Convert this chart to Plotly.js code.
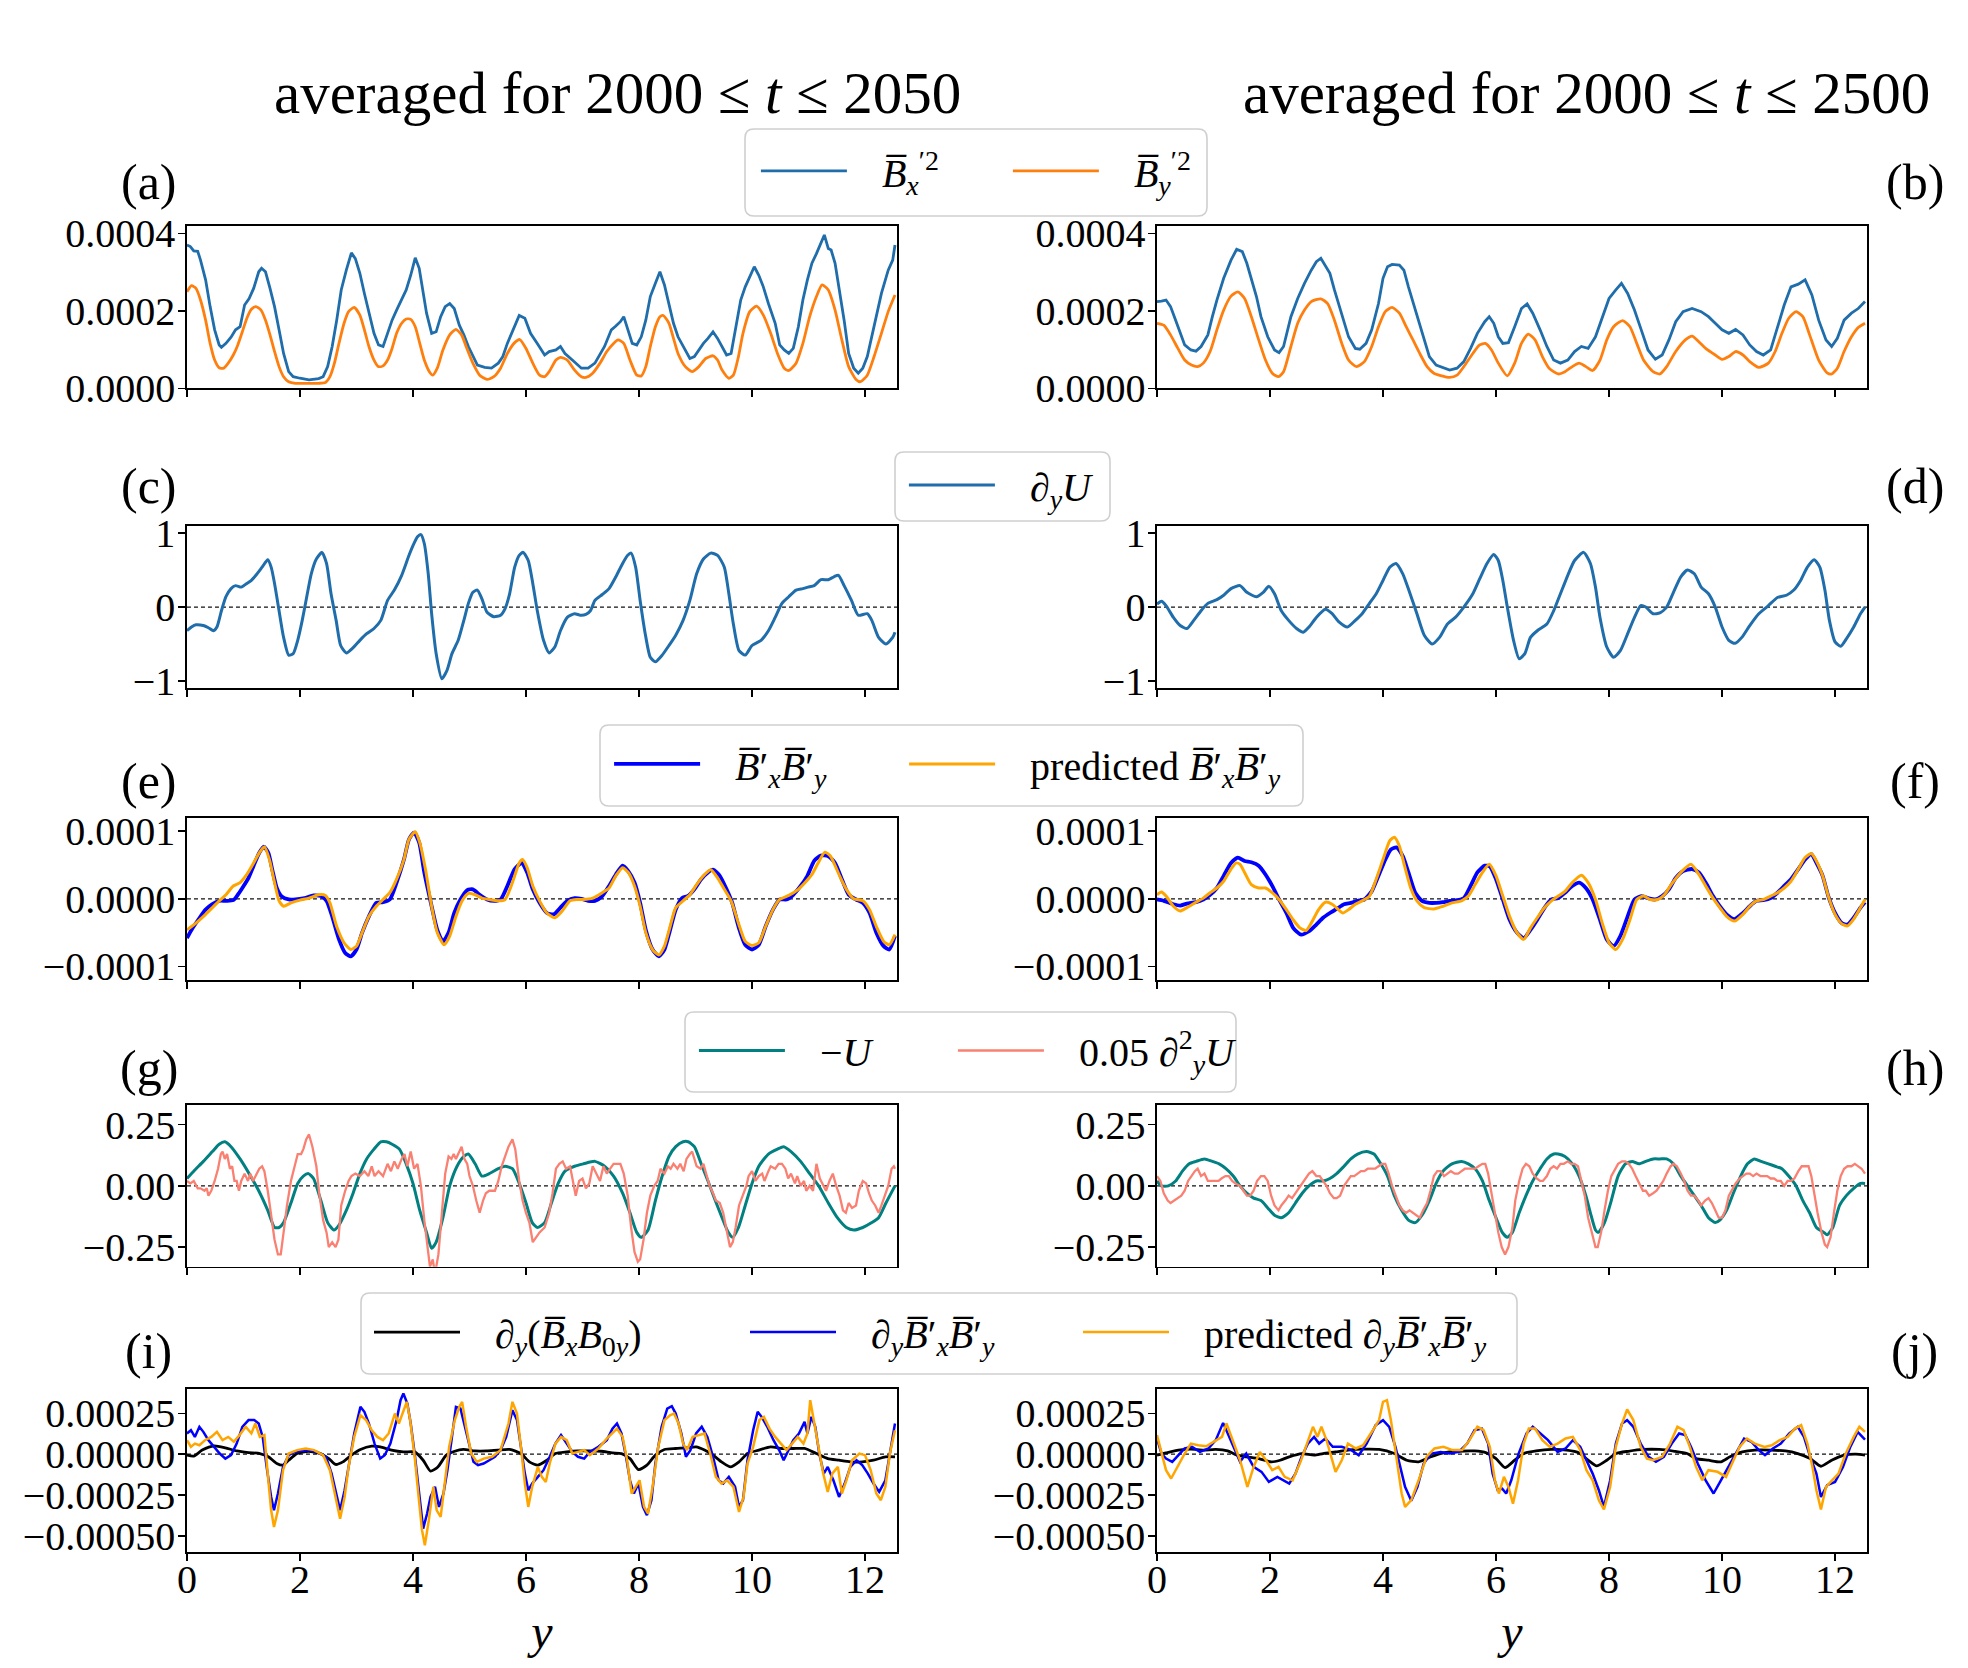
<!DOCTYPE html>
<html>
<head>
<meta charset="utf-8">
<script src="https://cdn.plot.ly/plotly-3.0.1.min.js"></script>
<style>
html, body { margin: 0; padding: 0; background: #fff; }
#chart { width: 1968px; height: 1668px; }
</style>
</head>
<body>
<div id="chart"></div>
<script>
// Magnetic fluctuation statistics averaged over two time windows.
// Panels a,b,e,f,i,j store values in units of 1e-4 (scaled by E4 when plotted).
const E4 = 1e-4;
const X_MAX = 12.566;

// (a) <Bx'^2>, <By'^2>, 2000 <= t <= 2050   [x 1e-4]
const aBx2X = [0.00,0.06,0.12,0.19,0.24,0.33,0.41,0.49,0.57,0.61,0.69,0.78,0.86,0.94,1.02,1.10,1.18,1.27,1.32,1.39,1.47,1.55,1.63,1.71,1.80,1.88,2.00,2.16,2.33,2.41,2.49,2.57,2.65,2.73,2.82,2.91,2.98,3.06,3.14,3.22,3.31,3.39,3.47,3.55,3.63,3.71,3.80,3.88,3.96,4.04,4.11,4.16,4.24,4.33,4.41,4.49,4.57,4.65,4.73,4.82,4.90,4.98,5.06,5.14,5.27,5.39,5.51,5.59,5.67,5.80,5.88,5.98,6.08,6.20,6.33,6.41,6.53,6.61,6.69,6.82,6.98,7.10,7.22,7.39,7.51,7.59,7.67,7.73,7.80,7.88,7.96,8.04,8.12,8.20,8.29,8.37,8.45,8.53,8.61,8.69,8.82,8.90,8.98,9.06,9.14,9.22,9.31,9.39,9.47,9.55,9.63,9.71,9.80,9.88,9.96,10.04,10.12,10.20,10.29,10.41,10.49,10.57,10.65,10.73,10.82,10.90,10.98,11.06,11.14,11.22,11.28,11.35,11.40,11.47,11.55,11.63,11.71,11.80,11.88,11.96,12.04,12.12,12.20,12.29,12.41,12.49,12.53];
const aBx2Y = [3.70,3.66,3.55,3.54,3.31,2.80,2.11,1.51,1.12,1.06,1.16,1.32,1.51,1.59,2.15,2.32,2.58,3.01,3.10,3.01,2.58,2.11,1.51,0.90,0.43,0.30,0.26,0.22,0.25,0.30,0.56,1.08,1.76,2.54,3.05,3.50,3.35,2.97,2.45,1.94,1.42,1.12,1.08,1.42,1.76,2.02,2.28,2.54,2.92,3.37,3.10,2.62,1.94,1.42,1.46,1.85,2.11,2.19,2.06,1.63,1.38,1.08,0.82,0.60,0.54,0.52,0.65,0.82,1.16,1.59,1.88,1.81,1.42,1.16,0.86,0.95,0.99,1.08,0.90,0.73,0.52,0.52,0.65,1.08,1.51,1.61,1.72,1.85,1.55,1.16,1.12,1.33,1.76,2.37,2.71,3.01,2.67,2.19,1.68,1.33,0.99,0.77,0.82,0.99,1.16,1.29,1.46,1.29,1.08,0.86,0.90,1.51,2.28,2.62,2.88,3.14,2.92,2.62,2.19,1.68,1.12,0.99,0.90,1.03,1.59,2.28,2.80,3.23,3.48,3.74,3.96,3.61,3.57,3.23,2.54,1.76,0.90,0.52,0.39,0.52,0.82,1.33,1.85,2.45,3.05,3.31,3.70];
const aBy2X = [0.00,0.08,0.16,0.24,0.33,0.41,0.49,0.57,0.65,0.73,0.82,0.90,0.98,1.06,1.14,1.22,1.31,1.39,1.47,1.55,1.63,1.71,1.80,1.92,2.08,2.33,2.45,2.53,2.61,2.69,2.78,2.86,2.96,3.06,3.14,3.22,3.31,3.39,3.47,3.55,3.63,3.71,3.80,3.88,3.96,4.04,4.12,4.20,4.29,4.35,4.43,4.53,4.65,4.76,4.86,4.94,5.06,5.18,5.31,5.43,5.55,5.67,5.80,5.89,6.00,6.12,6.24,6.33,6.41,6.53,6.61,6.73,6.86,6.98,7.06,7.18,7.31,7.43,7.55,7.63,7.73,7.84,7.96,8.04,8.12,8.20,8.29,8.37,8.43,8.53,8.61,8.69,8.82,8.94,9.06,9.18,9.31,9.39,9.47,9.59,9.67,9.76,9.84,9.96,10.08,10.20,10.33,10.45,10.57,10.65,10.78,10.90,11.02,11.14,11.24,11.35,11.47,11.59,11.71,11.84,11.92,12.04,12.16,12.29,12.41,12.53];
const aBy2Y = [2.49,2.65,2.58,2.28,1.76,1.16,0.73,0.53,0.52,0.65,0.86,1.12,1.46,1.81,2.04,2.11,2.02,1.76,1.38,0.95,0.56,0.30,0.17,0.13,0.13,0.13,0.15,0.30,0.65,1.16,1.68,1.98,2.09,1.89,1.51,1.08,0.73,0.56,0.58,0.73,1.03,1.42,1.68,1.79,1.78,1.59,1.16,0.73,0.43,0.34,0.52,0.99,1.38,1.52,1.38,1.08,0.65,0.34,0.23,0.30,0.52,0.90,1.18,1.26,1.03,0.65,0.34,0.30,0.43,0.73,0.80,0.73,0.47,0.30,0.28,0.39,0.65,0.95,1.16,1.25,1.16,0.73,0.34,0.32,0.56,1.08,1.59,1.85,1.88,1.68,1.29,0.90,0.56,0.43,0.56,0.77,0.84,0.73,0.47,0.26,0.34,0.82,1.42,1.98,2.12,1.89,1.42,0.90,0.52,0.46,0.65,1.16,1.85,2.37,2.67,2.54,2.02,1.25,0.56,0.23,0.17,0.34,0.82,1.42,1.98,2.41];

// (b) same quantities, 2000 <= t <= 2500   [x 1e-4]
const bBx2X = [0,0.08,0.16,0.24,0.33,0.41,0.49,0.60,0.69,0.78,0.90,0.98,1.06,1.18,1.31,1.41,1.51,1.59,1.67,1.76,1.84,1.96,2.08,2.16,2.24,2.37,2.49,2.61,2.73,2.82,2.90,2.98,3.06,3.14,3.27,3.39,3.51,3.59,3.70,3.80,3.92,4.00,4.08,4.16,4.29,4.37,4.45,4.57,4.69,4.82,4.94,5.06,5.18,5.31,5.43,5.55,5.67,5.80,5.88,5.96,6.04,6.12,6.22,6.33,6.45,6.55,6.65,6.78,6.90,7.02,7.14,7.27,7.39,7.51,7.63,7.76,7.88,8.00,8.12,8.22,8.33,8.45,8.57,8.69,8.82,8.94,9.06,9.18,9.31,9.47,9.63,9.76,9.88,10.00,10.12,10.24,10.37,10.49,10.61,10.73,10.86,10.98,11.10,11.22,11.35,11.47,11.59,11.71,11.84,11.94,12.04,12.16,12.29,12.41,12.53];
const bBx2Y = [2.24,2.25,2.28,2.11,1.76,1.42,1.12,0.99,0.96,1.08,1.38,1.85,2.28,2.84,3.31,3.59,3.53,3.23,2.80,2.37,1.85,1.33,0.99,0.92,1.08,1.85,2.32,2.71,3.05,3.27,3.36,3.18,2.97,2.54,1.94,1.33,1.03,1.01,1.16,1.51,2.19,2.84,3.14,3.20,3.18,3.05,2.62,2.02,1.42,0.82,0.60,0.53,0.47,0.52,0.69,1.03,1.42,1.72,1.85,1.68,1.33,1.16,1.18,1.59,2.06,2.18,1.94,1.51,1.08,0.73,0.65,0.73,0.95,1.08,1.03,1.33,1.85,2.32,2.54,2.71,2.45,2.02,1.51,0.99,0.75,0.86,1.25,1.72,1.98,2.06,1.98,1.85,1.68,1.51,1.42,1.52,1.38,1.12,0.95,0.86,0.99,1.59,2.15,2.62,2.69,2.80,2.41,1.76,1.25,1.08,1.29,1.76,1.94,2.06,2.24];
const bBy2X = [0,0.12,0.24,0.37,0.49,0.61,0.72,0.82,0.94,1.06,1.18,1.31,1.43,1.55,1.67,1.80,1.92,2.04,2.15,2.24,2.37,2.49,2.61,2.73,2.90,3.02,3.14,3.27,3.39,3.53,3.67,3.80,3.92,4.04,4.16,4.29,4.41,4.53,4.65,4.78,4.90,5.02,5.18,5.31,5.43,5.59,5.71,5.81,5.92,6.04,6.20,6.33,6.45,6.57,6.69,6.82,6.94,7.10,7.22,7.35,7.47,7.59,7.71,7.84,7.96,8.08,8.24,8.37,8.49,8.61,8.78,8.90,9.02,9.18,9.35,9.47,9.59,9.71,9.88,10.00,10.12,10.24,10.37,10.49,10.65,10.82,10.94,11.06,11.18,11.31,11.43,11.55,11.71,11.86,11.94,12.04,12.16,12.29,12.41,12.53];
const bBy2Y = [1.68,1.63,1.38,1.03,0.73,0.60,0.56,0.65,0.95,1.51,2.02,2.38,2.49,2.32,1.85,1.25,0.73,0.39,0.30,0.43,1.08,1.68,2.02,2.24,2.31,2.19,1.76,1.16,0.73,0.56,0.69,1.08,1.59,1.98,2.09,1.94,1.59,1.25,0.90,0.56,0.39,0.33,0.28,0.34,0.56,0.90,1.12,1.16,0.99,0.65,0.32,0.65,1.16,1.40,1.25,0.82,0.52,0.37,0.43,0.56,0.65,0.56,0.46,0.73,1.25,1.59,1.75,1.59,1.16,0.73,0.43,0.37,0.56,0.95,1.25,1.35,1.20,1.03,0.86,0.75,0.82,0.95,0.86,0.69,0.54,0.65,0.95,1.42,1.81,1.98,1.85,1.38,0.73,0.40,0.37,0.52,0.95,1.33,1.57,1.68];

// (c), (d) shear  d_y U
const cDUX = [0,0.08,0.16,0.29,0.38,0.47,0.53,0.61,0.69,0.78,0.86,0.96,1.06,1.14,1.22,1.33,1.43,1.49,1.55,1.63,1.71,1.80,1.88,1.96,2.04,2.12,2.20,2.29,2.39,2.47,2.55,2.64,2.72,2.82,2.94,3.06,3.18,3.31,3.43,3.55,3.67,3.80,3.92,4.00,4.08,4.14,4.20,4.27,4.33,4.41,4.51,4.60,4.69,4.80,4.90,4.98,5.06,5.14,5.22,5.31,5.43,5.55,5.63,5.71,5.80,5.88,5.95,6.04,6.12,6.20,6.31,6.41,6.51,6.61,6.73,6.86,6.96,7.06,7.14,7.22,7.35,7.47,7.59,7.71,7.80,7.86,7.94,8.02,8.11,8.20,8.29,8.41,8.53,8.65,8.78,8.90,9.02,9.14,9.27,9.39,9.51,9.59,9.67,9.77,9.88,10.00,10.16,10.29,10.41,10.53,10.65,10.78,10.90,10.99,11.10,11.22,11.35,11.45,11.53,11.63,11.76,11.88,12.04,12.12,12.24,12.37,12.49,12.53];
const cDUY = [-0.32,-0.27,-0.24,-0.25,-0.28,-0.32,-0.27,-0.05,0.14,0.25,0.29,0.27,0.32,0.36,0.43,0.54,0.64,0.54,0.32,-0.05,-0.41,-0.65,-0.63,-0.45,-0.18,0.14,0.45,0.65,0.74,0.59,0.18,-0.18,-0.52,-0.62,-0.55,-0.45,-0.36,-0.29,-0.18,0.09,0.23,0.43,0.68,0.83,0.95,0.98,0.86,0.45,-0.09,-0.63,-0.97,-0.86,-0.63,-0.45,-0.18,0.05,0.20,0.23,0.11,-0.07,-0.13,-0.11,-0.02,0.18,0.54,0.70,0.74,0.63,0.32,-0.05,-0.45,-0.62,-0.54,-0.32,-0.14,-0.09,-0.11,-0.10,-0.05,0.09,0.17,0.25,0.41,0.59,0.70,0.73,0.54,0.09,-0.36,-0.68,-0.74,-0.65,-0.52,-0.38,-0.18,0.09,0.45,0.65,0.73,0.70,0.54,0.18,-0.23,-0.59,-0.65,-0.52,-0.45,-0.32,-0.14,0.05,0.14,0.23,0.25,0.27,0.29,0.37,0.37,0.41,0.43,0.29,0.09,-0.11,-0.09,-0.18,-0.41,-0.50,-0.41,-0.34];
const dDUX = [0,0.08,0.16,0.29,0.41,0.53,0.65,0.78,0.90,1.06,1.18,1.31,1.47,1.59,1.76,1.88,1.98,2.08,2.20,2.33,2.47,2.59,2.69,2.82,2.98,3.10,3.22,3.37,3.51,3.63,3.76,3.88,4.00,4.12,4.23,4.35,4.47,4.60,4.73,4.87,5.00,5.14,5.28,5.43,5.59,5.71,5.84,5.96,6.04,6.12,6.20,6.31,6.41,6.51,6.61,6.73,6.90,7.02,7.14,7.27,7.39,7.55,7.67,7.76,7.84,7.96,8.08,8.20,8.33,8.45,8.56,8.65,8.78,8.90,9.02,9.14,9.27,9.39,9.51,9.63,9.76,9.88,10.00,10.12,10.23,10.35,10.49,10.65,10.82,10.98,11.14,11.27,11.39,11.51,11.63,11.73,11.82,11.90,12.00,12.10,12.20,12.33,12.45,12.53];
const dDUY = [0.04,0.08,0.02,-0.14,-0.25,-0.29,-0.18,-0.05,0.05,0.10,0.16,0.25,0.29,0.20,0.14,0.20,0.28,0.18,-0.05,-0.18,-0.29,-0.34,-0.27,-0.14,-0.03,-0.09,-0.20,-0.27,-0.18,-0.09,0.05,0.18,0.36,0.54,0.59,0.45,0.20,-0.09,-0.38,-0.50,-0.41,-0.23,-0.14,0.00,0.18,0.38,0.59,0.71,0.63,0.36,0.00,-0.45,-0.70,-0.63,-0.41,-0.32,-0.23,-0.05,0.18,0.43,0.63,0.74,0.59,0.27,-0.14,-0.54,-0.68,-0.59,-0.36,-0.14,0.02,0.00,-0.09,-0.08,0.00,0.20,0.41,0.50,0.45,0.27,0.18,0.00,-0.27,-0.45,-0.49,-0.41,-0.25,-0.09,0.02,0.13,0.16,0.23,0.36,0.54,0.64,0.54,0.23,-0.18,-0.47,-0.53,-0.43,-0.27,-0.09,0.00];

// (e), (f) correlation <Bx' By'> and its prediction   [x 1e-4]
const eBxByX = [0,0.08,0.20,0.33,0.45,0.57,0.69,0.82,0.90,0.98,1.09,1.18,1.28,1.36,1.44,1.51,1.59,1.67,1.80,1.92,2.08,2.24,2.37,2.47,2.57,2.69,2.80,2.90,3.00,3.10,3.22,3.35,3.47,3.59,3.71,3.84,3.93,4.02,4.11,4.20,4.33,4.43,4.53,4.63,4.73,4.84,4.96,5.06,5.18,5.31,5.43,5.55,5.67,5.80,5.92,6.02,6.12,6.24,6.37,6.49,6.61,6.73,6.86,6.98,7.10,7.22,7.35,7.47,7.59,7.71,7.81,7.92,8.02,8.12,8.24,8.35,8.45,8.55,8.65,8.76,8.86,8.98,9.10,9.22,9.31,9.43,9.55,9.65,9.76,9.88,10.00,10.12,10.24,10.37,10.49,10.61,10.73,10.86,10.98,11.10,11.22,11.35,11.47,11.59,11.71,11.84,11.96,12.08,12.20,12.33,12.43,12.53];
const eBxByY = [-0.58,-0.46,-0.31,-0.16,-0.08,-0.03,-0.03,-0.02,0.06,0.16,0.31,0.49,0.68,0.77,0.68,0.43,0.16,0.04,-0.01,-0.01,0.01,0.05,0.04,-0.03,-0.26,-0.60,-0.80,-0.85,-0.75,-0.50,-0.26,-0.06,-0.05,-0.01,0.24,0.58,0.88,0.98,0.83,0.39,-0.11,-0.46,-0.63,-0.50,-0.21,-0.01,0.13,0.14,0.06,-0.01,-0.03,-0.01,0.19,0.44,0.53,0.39,0.14,-0.06,-0.21,-0.23,-0.13,-0.03,0.01,0.00,-0.03,-0.03,0.04,0.19,0.36,0.49,0.41,0.24,-0.06,-0.46,-0.75,-0.85,-0.75,-0.46,-0.16,0.01,0.04,0.14,0.29,0.39,0.43,0.34,0.14,-0.06,-0.41,-0.68,-0.75,-0.68,-0.41,-0.16,-0.01,-0.01,0.06,0.19,0.34,0.56,0.64,0.63,0.53,0.29,0.06,-0.01,-0.06,-0.21,-0.50,-0.70,-0.75,-0.55];
const ePredX = [0,0.08,0.20,0.33,0.45,0.57,0.69,0.82,0.94,1.06,1.18,1.28,1.37,1.46,1.55,1.63,1.71,1.84,2.00,2.16,2.33,2.45,2.53,2.65,2.78,2.90,3.00,3.10,3.22,3.35,3.47,3.59,3.71,3.84,3.93,4.04,4.12,4.22,4.33,4.43,4.55,4.65,4.76,4.87,4.98,5.10,5.22,5.35,5.51,5.63,5.76,5.88,5.94,6.02,6.12,6.24,6.37,6.51,6.64,6.78,6.90,7.02,7.18,7.35,7.47,7.59,7.71,7.81,7.92,8.02,8.12,8.24,8.35,8.45,8.55,8.65,8.78,8.90,9.02,9.14,9.27,9.39,9.51,9.63,9.76,9.88,10.00,10.12,10.24,10.37,10.49,10.65,10.82,10.94,11.06,11.17,11.29,11.39,11.47,11.55,11.67,11.80,11.96,12.08,12.20,12.33,12.43,12.53];
const ePredY = [-0.46,-0.41,-0.33,-0.23,-0.13,-0.03,0.06,0.19,0.24,0.36,0.53,0.68,0.77,0.58,0.24,-0.03,-0.11,-0.06,-0.02,0.01,0.06,0.05,-0.06,-0.41,-0.65,-0.75,-0.70,-0.50,-0.26,-0.11,-0.01,0.09,0.29,0.58,0.88,0.99,0.83,0.44,-0.11,-0.50,-0.68,-0.55,-0.26,-0.03,0.08,0.06,0.01,-0.01,-0.03,-0.01,0.24,0.53,0.58,0.46,0.19,-0.03,-0.21,-0.28,-0.18,-0.03,-0.01,-0.01,0.01,0.09,0.16,0.34,0.46,0.39,0.19,-0.11,-0.50,-0.75,-0.83,-0.70,-0.41,-0.13,-0.03,0.06,0.21,0.34,0.43,0.31,0.14,-0.03,-0.36,-0.63,-0.69,-0.65,-0.41,-0.16,-0.01,0.05,0.14,0.24,0.36,0.53,0.69,0.63,0.49,0.34,0.14,0.00,-0.03,-0.16,-0.41,-0.63,-0.68,-0.53];
const fBxByX = [0,0.12,0.29,0.41,0.53,0.69,0.82,0.94,1.06,1.18,1.31,1.43,1.55,1.67,1.80,1.92,2.04,2.16,2.29,2.41,2.55,2.69,2.82,2.94,3.06,3.18,3.31,3.43,3.55,3.67,3.80,3.92,4.04,4.14,4.24,4.35,4.45,4.57,4.69,4.82,4.94,5.06,5.18,5.31,5.43,5.55,5.67,5.80,5.89,6.00,6.12,6.24,6.37,6.49,6.61,6.73,6.86,6.98,7.10,7.22,7.35,7.47,7.59,7.71,7.84,7.96,8.08,8.20,8.33,8.45,8.57,8.69,8.82,8.94,9.06,9.18,9.31,9.47,9.59,9.71,9.84,9.96,10.08,10.22,10.37,10.49,10.61,10.73,10.86,10.98,11.10,11.22,11.35,11.47,11.58,11.67,11.78,11.88,12.00,12.12,12.22,12.33,12.45,12.53];
const fBxByY = [-0.01,-0.03,-0.08,-0.10,-0.07,-0.05,-0.01,0.06,0.16,0.34,0.53,0.61,0.56,0.54,0.49,0.36,0.19,-0.01,-0.21,-0.43,-0.53,-0.48,-0.38,-0.28,-0.21,-0.15,-0.08,-0.06,-0.03,-0.01,0.11,0.34,0.58,0.73,0.76,0.63,0.39,0.09,-0.03,-0.06,-0.06,-0.05,-0.03,-0.02,0.01,0.19,0.39,0.49,0.48,0.29,-0.01,-0.31,-0.50,-0.58,-0.46,-0.31,-0.13,-0.01,0.01,0.09,0.19,0.24,0.16,-0.01,-0.31,-0.60,-0.70,-0.55,-0.26,-0.01,0.04,0.01,-0.01,0.04,0.14,0.31,0.41,0.44,0.39,0.24,0.04,-0.11,-0.23,-0.30,-0.21,-0.11,-0.03,-0.02,0.01,0.09,0.19,0.29,0.44,0.58,0.66,0.53,0.34,0.04,-0.21,-0.36,-0.38,-0.28,-0.13,-0.05];
const fPredX = [0,0.08,0.16,0.29,0.41,0.53,0.69,0.82,0.94,1.06,1.18,1.31,1.40,1.47,1.55,1.67,1.80,1.92,2.04,2.16,2.29,2.41,2.53,2.64,2.73,2.86,2.98,3.10,3.21,3.29,3.39,3.51,3.63,3.76,3.88,4.00,4.12,4.20,4.29,4.38,4.49,4.60,4.73,4.90,5.06,5.22,5.39,5.51,5.63,5.76,5.88,6.00,6.12,6.24,6.37,6.49,6.61,6.73,6.86,6.98,7.10,7.22,7.35,7.51,7.63,7.76,7.88,8.00,8.12,8.24,8.37,8.49,8.61,8.73,8.86,8.98,9.10,9.27,9.45,9.59,9.71,9.84,9.96,10.08,10.22,10.37,10.49,10.61,10.73,10.86,10.98,11.10,11.22,11.35,11.47,11.58,11.67,11.78,11.88,12.00,12.12,12.22,12.33,12.45,12.53];
const fPredY = [0.06,0.10,0.04,-0.11,-0.18,-0.13,-0.05,0.01,0.09,0.16,0.26,0.44,0.53,0.51,0.39,0.21,0.16,0.16,0.09,-0.01,-0.16,-0.31,-0.43,-0.47,-0.36,-0.16,-0.05,-0.08,-0.16,-0.21,-0.16,-0.08,-0.03,0.04,0.29,0.58,0.86,0.91,0.78,0.49,0.16,-0.03,-0.13,-0.15,-0.11,-0.06,-0.03,0.04,0.21,0.39,0.51,0.34,0.04,-0.26,-0.50,-0.60,-0.43,-0.28,-0.13,-0.03,0.04,0.11,0.24,0.35,0.24,-0.01,-0.36,-0.65,-0.75,-0.60,-0.31,-0.01,0.04,-0.01,-0.01,0.06,0.21,0.39,0.51,0.36,0.19,0.01,-0.13,-0.26,-0.33,-0.23,-0.11,-0.03,-0.01,0.04,0.09,0.16,0.26,0.44,0.61,0.67,0.56,0.34,0.04,-0.23,-0.37,-0.40,-0.30,-0.13,-0.01];

// (g), (h) mean flow -U and 0.05 d_y^2 U
const gUX = [0,0.12,0.29,0.45,0.57,0.67,0.78,0.94,1.10,1.27,1.43,1.55,1.63,1.71,1.84,1.96,2.06,2.15,2.24,2.37,2.49,2.60,2.69,2.82,2.94,3.06,3.18,3.31,3.43,3.53,3.63,3.76,3.88,4.00,4.12,4.24,4.33,4.41,4.53,4.65,4.78,4.90,4.98,5.10,5.22,5.35,5.51,5.63,5.76,5.88,6.00,6.11,6.20,6.33,6.45,6.57,6.69,6.86,7.02,7.22,7.39,7.55,7.71,7.84,7.96,8.04,8.16,8.29,8.41,8.53,8.65,8.78,8.87,8.98,9.10,9.22,9.35,9.47,9.58,9.66,9.76,9.88,10.00,10.12,10.29,10.45,10.56,10.69,10.86,11.02,11.18,11.35,11.51,11.67,11.80,11.96,12.12,12.24,12.37,12.53];
const gUY = [0.03,0.06,0.10,0.14,0.17,0.18,0.16,0.11,0.05,-0.02,-0.10,-0.17,-0.17,-0.15,-0.07,0.01,0.04,0.05,0.03,-0.06,-0.15,-0.18,-0.16,-0.10,-0.03,0.05,0.11,0.15,0.18,0.18,0.17,0.15,0.09,0.01,-0.10,-0.19,-0.255,-0.23,-0.13,0.00,0.08,0.12,0.13,0.09,0.04,0.05,0.07,0.08,0.07,0.01,-0.07,-0.15,-0.17,-0.15,-0.07,0.01,0.06,0.08,0.09,0.10,0.08,0.04,-0.03,-0.11,-0.19,-0.21,-0.18,-0.06,0.04,0.12,0.16,0.18,0.18,0.16,0.09,0.02,-0.06,-0.13,-0.19,-0.21,-0.17,-0.08,0.01,0.08,0.13,0.15,0.16,0.14,0.10,0.05,0.00,-0.07,-0.13,-0.17,-0.18,-0.17,-0.15,-0.13,-0.07,0.00];
const gD2UX = [0,0.06,0.12,0.19,0.24,0.31,0.35,0.38,0.43,0.49,0.55,0.60,0.63,0.67,0.71,0.76,0.80,0.84,0.88,0.92,0.96,1.02,1.08,1.12,1.17,1.22,1.28,1.33,1.37,1.43,1.49,1.55,1.61,1.66,1.71,1.77,1.84,1.90,1.96,2.02,2.06,2.11,2.16,2.22,2.29,2.34,2.41,2.47,2.51,2.57,2.63,2.68,2.73,2.80,2.86,2.91,2.98,3.06,3.14,3.21,3.27,3.32,3.39,3.47,3.55,3.61,3.67,3.73,3.80,3.85,3.90,3.96,4.02,4.08,4.14,4.20,4.26,4.30,4.35,4.39,4.45,4.51,4.57,4.63,4.68,4.72,4.76,4.80,4.86,4.91,4.96,5.00,5.06,5.12,5.18,5.24,5.29,5.35,5.40,5.45,5.51,5.57,5.63,5.69,5.76,5.81,5.88,5.94,6.00,6.06,6.12,6.18,6.24,6.33,6.41,6.47,6.53,6.59,6.65,6.71,6.78,6.83,6.88,6.94,7.00,7.06,7.12,7.18,7.24,7.31,7.37,7.43,7.49,7.55,7.61,7.67,7.73,7.80,7.86,7.92,7.98,8.02,8.08,8.14,8.20,8.27,8.33,8.38,8.45,8.51,8.56,8.61,8.68,8.73,8.79,8.84,8.90,8.94,8.98,9.02,9.09,9.14,9.20,9.25,9.31,9.36,9.43,9.49,9.55,9.61,9.66,9.71,9.77,9.84,9.90,9.94,10.00,10.06,10.12,10.18,10.22,10.29,10.33,10.41,10.47,10.53,10.59,10.64,10.69,10.76,10.80,10.86,10.92,10.96,11.02,11.08,11.14,11.20,11.25,11.31,11.37,11.43,11.49,11.55,11.61,11.66,11.71,11.77,11.84,11.89,11.96,12.02,12.07,12.12,12.18,12.24,12.29,12.35,12.41,12.47,12.51,12.53];
const gD2UY = [0.02,0.01,0.02,-0.01,-0.01,-0.02,-0.01,-0.04,-0.02,0.02,0.07,0.13,0.14,0.11,0.13,0.07,0.08,0.02,0.02,-0.02,0.02,0.05,0.02,0.05,0.02,0.04,0.07,0.08,0.06,-0.02,-0.13,-0.22,-0.28,-0.28,-0.19,-0.08,0.02,0.08,0.13,0.13,0.15,0.19,0.21,0.16,0.08,-0.03,-0.14,-0.19,-0.25,-0.23,-0.25,-0.22,-0.08,-0.02,0.02,0.04,0.05,0.04,0.06,0.04,0.08,0.04,0.06,0.04,0.09,0.06,0.10,0.07,0.11,0.13,0.08,0.14,0.07,0.09,0.00,-0.14,-0.25,-0.33,-0.30,-0.36,-0.28,-0.13,0.05,0.12,0.11,0.13,0.11,0.13,0.16,0.11,0.09,0.04,0.00,-0.06,-0.11,-0.06,-0.03,-0.02,-0.02,-0.02,0.02,0.08,0.12,0.16,0.19,0.15,0.02,-0.06,-0.11,-0.15,-0.23,-0.21,-0.19,-0.17,-0.11,-0.03,0.07,0.09,0.10,0.07,0.08,0.02,-0.04,0.02,0.03,-0.01,0.01,0.08,0.05,0.02,0.08,0.05,0.07,0.09,0.09,0.09,0.05,-0.04,-0.17,-0.27,-0.31,-0.30,-0.22,-0.11,-0.04,0.00,0.02,0.07,0.05,0.08,0.07,0.09,0.07,0.09,0.06,0.11,0.13,0.14,0.11,0.08,0.07,0.09,0.04,0.00,-0.03,-0.06,-0.07,-0.11,-0.18,-0.25,-0.23,-0.17,-0.08,-0.04,0.00,0.04,0.06,0.02,0.04,0.05,0.02,0.06,0.08,0.07,0.09,0.09,0.07,0.03,0.05,0.01,0.04,0.00,0.02,-0.02,0.00,-0.02,0.09,0.03,0.01,-0.02,0.02,0.05,0.00,-0.04,-0.10,-0.11,-0.07,-0.09,-0.08,-0.02,0.02,0.01,-0.03,-0.06,-0.08,-0.11,-0.08,-0.04,0.00,0.07,0.08,0.07];
const hUX = [0,0.08,0.20,0.33,0.45,0.57,0.69,0.84,0.98,1.10,1.22,1.35,1.47,1.59,1.71,1.84,1.96,2.08,2.20,2.33,2.45,2.57,2.69,2.82,2.94,3.06,3.18,3.31,3.43,3.55,3.71,3.84,3.96,4.08,4.20,4.33,4.45,4.57,4.69,4.82,4.94,5.06,5.22,5.39,5.51,5.63,5.76,5.88,6.00,6.11,6.20,6.29,6.41,6.53,6.65,6.78,6.90,7.02,7.10,7.22,7.35,7.47,7.59,7.67,7.76,7.81,7.92,8.04,8.16,8.29,8.41,8.53,8.65,8.78,8.90,9.02,9.14,9.27,9.39,9.51,9.63,9.76,9.88,9.96,10.08,10.20,10.33,10.45,10.57,10.69,10.82,10.94,11.06,11.18,11.31,11.43,11.55,11.67,11.80,11.86,11.96,12.08,12.20,12.33,12.45,12.53];
const hUY = [0.02,0.00,0.00,0.02,0.06,0.09,0.10,0.11,0.10,0.09,0.07,0.04,0.00,-0.03,-0.05,-0.06,-0.09,-0.12,-0.13,-0.11,-0.07,-0.03,0.00,0.02,0.02,0.03,0.05,0.08,0.11,0.13,0.14,0.13,0.09,0.04,-0.04,-0.10,-0.14,-0.15,-0.12,-0.06,0.01,0.06,0.09,0.10,0.09,0.07,0.02,-0.06,-0.13,-0.19,-0.21,-0.19,-0.11,-0.04,0.02,0.07,0.11,0.13,0.13,0.12,0.09,0.04,-0.04,-0.11,-0.18,-0.19,-0.15,-0.06,0.04,0.09,0.10,0.09,0.10,0.11,0.11,0.11,0.09,0.04,0.00,-0.04,-0.08,-0.13,-0.15,-0.14,-0.10,-0.03,0.04,0.09,0.11,0.10,0.09,0.08,0.07,0.04,0.00,-0.06,-0.11,-0.17,-0.19,-0.20,-0.17,-0.08,-0.04,-0.01,0.01,0.01];
const hD2UX = [0,0.06,0.12,0.19,0.24,0.31,0.37,0.43,0.49,0.55,0.61,0.67,0.72,0.78,0.84,0.90,0.96,1.02,1.09,1.14,1.21,1.27,1.33,1.39,1.47,1.53,1.59,1.65,1.71,1.77,1.84,1.90,1.96,2.02,2.08,2.15,2.20,2.27,2.33,2.39,2.45,2.51,2.57,2.64,2.69,2.75,2.82,2.88,2.94,3.00,3.06,3.13,3.18,3.24,3.31,3.37,3.43,3.49,3.55,3.61,3.67,3.73,3.80,3.86,3.92,3.98,4.04,4.10,4.16,4.22,4.29,4.35,4.41,4.47,4.53,4.59,4.65,4.71,4.78,4.84,4.90,4.96,5.02,5.08,5.14,5.20,5.27,5.33,5.39,5.45,5.51,5.57,5.63,5.69,5.76,5.81,5.86,5.92,5.98,6.04,6.10,6.16,6.22,6.29,6.34,6.41,6.47,6.53,6.59,6.65,6.72,6.78,6.83,6.90,6.96,7.02,7.08,7.14,7.20,7.27,7.33,7.39,7.45,7.51,7.57,7.63,7.70,7.76,7.80,7.86,7.92,7.98,8.04,8.11,8.16,8.23,8.29,8.35,8.41,8.47,8.53,8.60,8.65,8.71,8.78,8.84,8.90,8.96,9.02,9.09,9.14,9.20,9.27,9.33,9.39,9.45,9.51,9.58,9.63,9.70,9.76,9.82,9.88,9.94,10.00,10.06,10.12,10.19,10.24,10.31,10.37,10.43,10.49,10.55,10.61,10.68,10.73,10.80,10.86,10.92,10.98,11.04,11.10,11.16,11.22,11.28,11.35,11.41,11.47,11.53,11.58,11.63,11.69,11.76,11.82,11.86,11.92,11.98,12.04,12.10,12.16,12.22,12.29,12.35,12.41,12.47,12.53];
const hD2UY = [0.04,0.02,-0.03,-0.06,-0.07,-0.06,-0.05,-0.04,-0.02,0.02,0.04,0.06,0.07,0.04,0.05,0.02,0.02,0.02,0.02,0.03,0.04,0.04,0.02,0.01,0.00,-0.02,-0.04,-0.04,-0.02,0.02,0.04,0.04,0.02,-0.04,-0.08,-0.10,-0.08,-0.06,-0.04,-0.05,-0.03,-0.01,0.01,0.03,0.05,0.06,0.04,0.04,0.02,0.00,-0.03,-0.05,-0.05,-0.04,0.00,0.02,0.04,0.04,0.05,0.06,0.06,0.07,0.07,0.07,0.08,0.09,0.09,0.05,0.00,-0.04,-0.08,-0.10,-0.11,-0.10,-0.11,-0.12,-0.13,-0.10,-0.07,-0.02,0.04,0.06,0.06,0.04,0.05,0.06,0.05,0.05,0.06,0.07,0.07,0.07,0.07,0.08,0.09,0.09,0.05,-0.03,-0.11,-0.19,-0.25,-0.28,-0.25,-0.17,-0.06,0.02,0.07,0.09,0.08,0.05,0.03,0.02,0.02,0.04,0.07,0.08,0.07,0.09,0.09,0.10,0.09,0.09,0.08,0.02,-0.04,-0.13,-0.19,-0.25,-0.25,-0.19,-0.10,-0.02,0.04,0.07,0.09,0.10,0.10,0.09,0.07,0.04,0.01,-0.02,-0.02,-0.04,-0.03,-0.02,0.00,0.02,0.05,0.08,0.09,0.08,0.05,0.02,-0.02,-0.04,-0.04,-0.06,-0.08,-0.06,-0.05,-0.07,-0.10,-0.13,-0.13,-0.10,-0.04,-0.01,0.01,0.03,0.04,0.05,0.05,0.04,0.05,0.04,0.04,0.04,0.03,0.03,0.02,0.02,0.00,0.02,0.02,0.03,0.06,0.08,0.08,0.08,0.04,-0.03,-0.11,-0.19,-0.24,-0.25,-0.21,-0.11,-0.02,0.04,0.07,0.08,0.08,0.09,0.08,0.07,0.05];

// (i), (j) force balance terms   [x 1e-4]
const iMeanX = [0,0.12,0.27,0.48,0.68,0.88,1.09,1.29,1.44,1.59,1.70,1.80,1.95,2.15,2.36,2.51,2.63,2.76,2.91,3.07,3.27,3.42,3.62,3.83,4.03,4.18,4.31,4.44,4.59,4.74,4.89,5.10,5.30,5.50,5.71,5.91,6.06,6.21,6.37,6.52,6.72,6.92,7.13,7.33,7.53,7.69,7.84,7.99,8.14,8.29,8.45,8.65,8.85,9.01,9.16,9.31,9.46,9.62,9.77,9.92,10.12,10.33,10.53,10.73,10.93,11.14,11.34,11.54,11.74,11.95,12.15,12.36,12.53];
const iMeanY = [-0.06,-0.12,0.25,0.51,0.39,0.20,0.10,0.04,-0.16,-0.57,-0.67,-0.37,0.04,0.18,0.04,-0.27,-0.63,-0.47,-0.06,0.29,0.49,0.45,0.25,0.14,0.14,-0.37,-1.04,-0.78,-0.06,0.18,0.29,0.20,0.20,0.25,0.29,0.04,-0.47,-0.67,-0.37,0.04,0.14,0.20,0.20,0.18,0.08,0.04,-0.27,-0.94,-0.67,-0.06,0.29,0.35,0.39,0.45,0.25,-0.06,-0.47,-0.78,-0.47,0.04,0.25,0.45,0.35,0.35,0.35,0.04,-0.27,-0.37,-0.47,-0.47,-0.37,-0.16,-0.16];
const iDivX = [0,0.07,0.14,0.22,0.29,0.38,0.48,0.58,0.68,0.78,0.88,0.98,1.09,1.19,1.27,1.34,1.41,1.49,1.54,1.61,1.70,1.80,1.90,2.00,2.15,2.30,2.46,2.56,2.66,2.71,2.79,2.86,2.96,3.07,3.14,3.22,3.32,3.42,3.50,3.60,3.71,3.78,3.83,3.90,3.96,4.03,4.10,4.18,4.25,4.31,4.39,4.46,4.54,4.61,4.69,4.76,4.84,4.92,5.00,5.07,5.15,5.25,5.35,5.45,5.55,5.65,5.76,5.84,5.91,5.98,6.04,6.11,6.21,6.31,6.42,6.52,6.62,6.72,6.82,6.92,7.03,7.13,7.28,7.43,7.53,7.61,7.69,7.77,7.84,7.91,7.99,8.07,8.14,8.22,8.29,8.40,8.50,8.58,8.65,8.75,8.83,8.91,9.01,9.11,9.21,9.31,9.41,9.49,9.59,9.70,9.77,9.84,9.92,10.02,10.10,10.17,10.27,10.38,10.48,10.56,10.64,10.73,10.83,10.93,10.98,11.05,11.12,11.19,11.27,11.34,11.44,11.54,11.64,11.74,11.85,11.95,12.05,12.15,12.25,12.36,12.44,12.53];
const iDivY = [1.27,1.47,1.06,1.68,1.37,0.86,0.45,0.04,-0.27,-0.06,0.65,1.68,2.09,2.09,1.88,1.06,-0.78,-2.62,-3.44,-2.41,-0.78,-0.06,0.14,0.20,0.25,0.14,-0.16,-1.19,-2.82,-3.44,-2.21,-0.78,1.27,2.90,2.60,1.88,0.65,-0.27,-0.06,0.65,2.09,3.31,3.72,3.11,1.88,0.04,-2.00,-4.56,-3.64,-2.62,-2.00,-3.23,-2.41,-0.98,1.06,2.90,2.80,1.68,0.45,-0.47,-0.67,-0.57,-0.37,-0.16,0.25,1.06,2.70,2.09,0.45,-1.19,-2.21,-1.80,-1.39,-0.98,-0.16,0.65,1.17,0.65,0.14,-0.16,-0.27,0.14,0.45,0.86,1.57,1.88,1.27,-0.16,-1.60,-2.41,-1.80,-3.23,-3.74,-2.82,-0.57,1.68,2.80,2.94,2.49,1.27,-0.16,0.25,1.27,1.68,1.06,-0.16,-1.60,-1.80,-1.39,-2.00,-3.23,-2.82,-0.37,1.47,2.60,2.29,1.68,0.86,0.25,-0.37,0.25,0.86,1.27,1.98,1.27,2.29,1.68,0.04,-1.19,-0.78,-1.60,-2.62,-1.80,-0.78,-0.37,-0.67,-1.19,-1.80,-2.31,-1.60,0.04,1.88];
const iPredX = [0,0.07,0.14,0.22,0.32,0.43,0.53,0.63,0.73,0.83,0.93,1.04,1.14,1.21,1.29,1.37,1.44,1.49,1.54,1.61,1.70,1.80,1.95,2.10,2.25,2.41,2.53,2.63,2.71,2.79,2.86,2.96,3.07,3.17,3.27,3.37,3.47,3.57,3.68,3.75,3.83,3.89,3.95,4.03,4.10,4.16,4.21,4.28,4.36,4.42,4.49,4.56,4.64,4.74,4.82,4.87,4.94,5.03,5.13,5.25,5.40,5.55,5.69,5.76,5.84,5.91,5.98,6.04,6.11,6.21,6.28,6.35,6.42,6.52,6.62,6.72,6.82,6.92,7.03,7.13,7.28,7.43,7.53,7.61,7.71,7.79,7.87,7.94,8.01,8.09,8.16,8.24,8.34,8.45,8.55,8.62,8.70,8.78,8.85,8.95,9.06,9.16,9.26,9.36,9.46,9.56,9.67,9.77,9.85,9.92,10.02,10.13,10.21,10.31,10.41,10.51,10.61,10.71,10.81,10.91,10.98,11.03,11.09,11.17,11.26,11.34,11.42,11.52,11.59,11.67,11.77,11.90,12.00,12.10,12.20,12.28,12.36,12.44,12.53];
const iPredY = [0.86,0.45,0.65,0.55,0.86,1.06,1.37,0.86,1.06,0.76,1.17,1.68,1.27,1.88,1.06,1.17,-1.60,-3.44,-4.46,-3.44,-0.98,0.04,0.25,0.35,0.25,-0.06,-0.98,-2.62,-3.95,-2.62,-0.78,1.06,2.39,2.09,1.47,1.06,0.86,1.27,2.49,1.88,2.70,3.21,2.09,-0.16,-2.62,-4.66,-5.58,-4.05,-2.00,-3.44,-3.84,-2.00,0.45,2.09,2.90,3.21,1.68,0.04,-0.47,-0.27,-0.16,0.25,1.88,3.21,2.49,0.45,-1.80,-3.23,-2.00,-0.78,-1.39,-1.70,-0.57,0.65,1.06,0.86,0.04,0.14,0.25,-0.06,0.35,0.96,1.27,1.57,1.06,-0.37,-2.41,-2.00,-1.60,-3.23,-3.64,-2.00,0.45,2.09,2.39,2.49,1.88,0.65,0.25,1.06,1.17,1.27,0.04,-1.39,-1.80,-1.60,-2.00,-3.54,-2.62,-0.57,0.45,2.09,2.29,1.57,1.06,0.65,0.25,0.65,1.06,0.65,1.27,3.31,2.09,0.65,-1.19,-2.31,-1.19,-0.78,-2.41,-1.60,-0.37,0.04,-0.06,-0.98,-2.41,-2.82,-2.00,0.04,1.47];
const jMeanX = [0,0.16,0.38,0.60,0.82,1.04,1.25,1.42,1.58,1.80,2.02,2.18,2.34,2.56,2.78,2.94,3.16,3.38,3.65,3.93,4.20,4.42,4.63,4.85,5.07,5.34,5.62,5.83,6.00,6.16,6.33,6.49,6.71,6.98,7.25,7.47,7.63,7.78,7.96,8.12,8.34,8.61,8.89,9.16,9.38,9.54,9.76,9.98,10.14,10.36,10.58,10.85,11.12,11.34,11.56,11.75,11.94,12.16,12.37,12.53];
const jMeanY = [-0.06,0.08,0.25,0.31,0.25,0.29,0.20,-0.06,-0.16,-0.27,-0.47,-0.37,-0.16,0.04,-0.06,0.04,0.14,0.25,0.31,0.29,0.04,-0.37,-0.47,-0.16,0.08,0.18,0.20,0.08,-0.27,-0.82,-0.37,0.04,0.20,0.29,0.25,0.08,-0.37,-0.72,-0.37,0.04,0.18,0.29,0.29,0.18,0.04,-0.27,-0.37,-0.47,-0.16,0.14,0.25,0.25,0.20,0.04,-0.27,-0.74,-0.37,-0.06,0.00,-0.06];
const jDivX = [0,0.08,0.16,0.27,0.38,0.49,0.62,0.76,0.91,1.04,1.17,1.25,1.36,1.47,1.58,1.71,1.85,1.98,2.13,2.24,2.34,2.45,2.56,2.67,2.78,2.87,2.98,3.11,3.27,3.44,3.57,3.71,3.87,4.00,4.11,4.22,4.31,4.39,4.50,4.61,4.72,4.85,5.02,5.18,5.34,5.49,5.62,5.75,5.86,5.94,6.03,6.11,6.18,6.27,6.40,6.54,6.65,6.78,6.92,7.09,7.23,7.36,7.49,7.60,7.71,7.82,7.91,8.02,8.12,8.23,8.32,8.43,8.56,8.70,8.83,8.97,9.11,9.24,9.35,9.45,9.57,9.71,9.85,9.98,10.11,10.25,10.39,10.52,10.65,10.76,10.90,11.04,11.19,11.34,11.45,11.56,11.67,11.75,11.86,12.00,12.14,12.27,12.40,12.53];
const jDivY = [0.96,0.04,-0.27,-0.47,-0.06,0.35,0.45,0.14,0.35,0.86,1.92,1.27,0.45,-0.47,0.04,-0.78,-1.08,-1.70,-1.39,-1.60,-1.80,-1.19,-0.16,0.65,1.06,0.65,0.96,0.45,0.45,0.25,-0.06,0.65,1.78,2.09,1.68,0.45,-0.78,-2.00,-2.86,-2.00,-0.57,0.04,0.14,0.04,0.14,0.65,1.47,1.57,0.65,-1.19,-2.21,-2.11,-2.41,-1.60,0.04,1.27,1.68,1.27,0.86,0.14,0.35,0.86,0.45,-0.37,-1.19,-2.21,-3.23,-1.60,0.65,1.88,2.09,1.68,0.65,-0.16,-0.47,-0.16,0.65,1.27,1.17,0.45,-0.57,-1.60,-2.41,-1.60,-0.78,0.14,0.96,0.76,0.25,-0.06,0.35,0.65,1.27,1.68,1.06,-0.16,-1.19,-2.62,-1.90,-1.70,-0.78,0.45,1.37,0.90];
const jPredX = [0,0.08,0.16,0.25,0.36,0.49,0.60,0.73,0.87,1.01,1.15,1.23,1.34,1.47,1.60,1.71,1.82,1.93,2.04,2.15,2.26,2.40,2.54,2.67,2.76,2.84,2.91,3.00,3.09,3.16,3.27,3.38,3.52,3.65,3.82,3.93,4.00,4.07,4.14,4.25,4.33,4.39,4.50,4.63,4.77,4.91,5.07,5.23,5.40,5.53,5.67,5.78,5.89,5.98,6.05,6.14,6.22,6.30,6.39,6.49,6.58,6.69,6.82,6.95,7.09,7.23,7.36,7.49,7.60,7.71,7.82,7.91,8.02,8.12,8.23,8.32,8.43,8.56,8.67,8.78,8.94,9.08,9.21,9.32,9.43,9.54,9.65,9.76,9.92,10.07,10.20,10.31,10.44,10.58,10.75,10.88,11.02,11.16,11.29,11.40,11.51,11.60,11.67,11.75,11.84,11.95,12.06,12.19,12.33,12.43,12.53];
const jPredY = [1.17,0.04,-0.98,-1.49,-0.78,0.04,0.65,0.55,0.49,0.76,1.06,1.88,0.86,-0.37,-2.00,-0.78,0.14,-0.37,-0.98,-0.78,-1.39,-1.60,-0.47,0.86,1.68,1.06,1.68,0.86,-0.16,-1.08,-0.37,0.65,0.35,0.55,1.47,2.09,3.21,3.31,2.09,-0.57,-2.41,-3.23,-2.82,-1.60,-0.16,0.35,0.45,0.25,0.25,0.86,1.68,1.47,0.45,-1.60,-2.41,-1.39,-2.00,-3.03,-1.60,0.65,1.57,1.57,0.86,0.45,0.65,0.96,1.06,0.25,-0.98,-1.60,-2.82,-3.39,-2.00,0.45,1.88,2.74,2.09,0.45,-0.27,-0.37,-0.16,0.65,1.68,1.47,0.45,-0.78,-1.60,-0.98,-1.08,-1.39,-0.37,0.45,0.96,0.65,0.45,0.55,0.86,1.06,1.57,1.78,0.65,-0.78,-2.21,-3.39,-2.00,-1.60,-1.19,0.04,1.06,1.68,1.37];

// ---------- colours / labels ----------
const C_BX2 = '#1f6dab', C_BY2 = '#ff7f0e';
const C_BLUE = '#0000ff', C_ORANGE = '#ffa500';
const C_TEAL = '#008080', C_SALMON = '#fa8072';
const FONT = 'Liberation Serif, Times New Roman, serif';
const PAD = '\u00a0\u00a0\u00a0';

const LBL_BB = '<i>B̅</i>′<sub><i>x</i></sub><i>B̅</i>′<sub><i>y</i></sub>';
const LBL_BX2 = PAD + '<i>B̅</i><sub><i>x</i></sub><sup>′2</sup>';
const LBL_BY2 = PAD + '<i>B̅</i><sub><i>y</i></sub><sup>′2</sup>';
const LBL_DU = PAD + '∂<sub><i>y</i></sub><i>U</i>';
const LBL_CORR = PAD + LBL_BB;
const LBL_CORRP = PAD + 'predicted ' + LBL_BB;
const LBL_MU = PAD + '−<i>U</i>';
const LBL_D2U = PAD + '0.05 ∂<sup>2</sup><sub><i>y</i></sub><i>U</i>';
const LBL_MEAN = PAD + '∂<sub><i>y</i></sub>(<i>B̅</i><sub><i>x</i></sub><i>B</i><sub>0<i>y</i></sub>)';
const LBL_DIV = PAD + '∂<sub><i>y</i></sub>' + LBL_BB;
const LBL_DIVP = PAD + 'predicted ∂<sub><i>y</i></sub>' + LBL_BB;

const sc = a => a.map(v => v * E4);

function line(x, y, k, color, width, name, legend, show, smooth, lw) {
  const t = {
    type: 'scatter', mode: 'lines', x: x, y: y,
    xaxis: k === 1 ? 'x' : 'x' + k, yaxis: k === 1 ? 'y' : 'y' + k,
    line: { color: color, width: width, shape: smooth ? 'spline' : 'linear' },
    name: name, legend: legend, showlegend: show, hoverinfo: 'skip'
  };
  if (smooth) t.line.smoothing = 0.6;
  if (lw) t.legendwidth = lw;
  return t;
}

const traces = [
  line(aBx2X, sc(aBx2Y), 1, C_BX2, 2.8, LBL_BX2, 'legend', true, false, 151),
  line(aBy2X, sc(aBy2Y), 1, C_BY2, 2.8, LBL_BY2, 'legend', true, true),
  line(bBx2X, sc(bBx2Y), 2, C_BX2, 2.8, LBL_BX2, 'legend', false, false),
  line(bBy2X, sc(bBy2Y), 2, C_BY2, 2.8, LBL_BY2, 'legend', false, true),

  line(cDUX, cDUY, 3, C_BX2, 3.0, LBL_DU, 'legend2', true, true),
  line(dDUX, dDUY, 4, C_BX2, 3.0, LBL_DU, 'legend2', false, true),

  line(eBxByX, sc(eBxByY), 5, C_BLUE, 3.8, LBL_CORR, 'legend3', true, true, 194),
  line(ePredX, sc(ePredY), 5, C_ORANGE, 3.0, LBL_CORRP, 'legend3', true, true),
  line(fBxByX, sc(fBxByY), 6, C_BLUE, 3.8, LBL_CORR, 'legend3', false, true),
  line(fPredX, sc(fPredY), 6, C_ORANGE, 3.0, LBL_CORRP, 'legend3', false, true),

  line(gUX, gUY, 7, C_TEAL, 3.0, LBL_MU, 'legend4', true, true, 158),
  line(gD2UX, gD2UY, 7, C_SALMON, 2.3, LBL_D2U, 'legend4', true, false),
  line(hUX, hUY, 8, C_TEAL, 3.0, LBL_MU, 'legend4', false, true),
  line(hD2UX, hD2UY, 8, C_SALMON, 2.3, LBL_D2U, 'legend4', false, false),

  line(iMeanX, sc(iMeanY), 9, '#000000', 2.8, LBL_MEAN, 'legend5', true, true, 275),
  line(iDivX, sc(iDivY), 9, C_BLUE, 2.5, LBL_DIV, 'legend5', true, false, 232),
  line(iPredX, sc(iPredY), 9, C_ORANGE, 2.5, LBL_DIVP, 'legend5', true, false),
  line(jMeanX, sc(jMeanY), 10, '#000000', 2.8, LBL_MEAN, 'legend5', false, true),
  line(jDivX, sc(jDivY), 10, C_BLUE, 2.5, LBL_DIV, 'legend5', false, false),
  line(jPredX, sc(jPredY), 10, C_ORANGE, 2.5, LBL_DIVP, 'legend5', false, false)
];

// ---------- layout ----------
const W = 1968, H = 1668;
const COLS = [[0.0950, 0.4558], [0.5879, 0.9487]];
const ROWS = [[0.7672, 0.8647], [0.5873, 0.6848], [0.4125, 0.5098], [0.2406, 0.3375], [0.0695, 0.1673]];
const YSPEC = [
  { range: [0, 0.00042], vals: [0, 0.0002, 0.0004], text: ['0.0000', '0.0002', '0.0004'] },
  { range: [-1.1, 1.1], vals: [-1, 0, 1], text: ['−1', '0', '1'] },
  { range: [-0.00012, 0.00012], vals: [-0.0001, 0, 0.0001], text: ['−0.0001', '0.0000', '0.0001'] },
  { range: [-0.33, 0.33], vals: [-0.25, 0, 0.25], text: ['−0.25', '0.00', '0.25'] },
  { range: [-0.0006, 0.0004], vals: [-0.0005, -0.00025, 0, 0.00025], text: ['−0.00050', '−0.00025', '0.00000', '0.00025'] }
];

const layout = {
  width: W, height: H,
  margin: { l: 0, r: 0, t: 0, b: 0 },
  paper_bgcolor: '#ffffff', plot_bgcolor: '#ffffff',
  font: { family: FONT, size: 40, color: '#000000' },
  showlegend: true,
  shapes: [],
  annotations: []
};

const axisBase = {
  showline: true, mirror: true, linecolor: '#000000', linewidth: 1.6,
  ticks: 'outside', ticklen: 7, tickwidth: 1.6, tickcolor: '#000000',
  showgrid: false, zeroline: false, fixedrange: true,
  tickfont: { family: FONT, size: 40, color: '#000000' }
};

for (let k = 1; k <= 10; k++) {
  const row = Math.floor((k - 1) / 2), col = (k - 1) % 2;
  const xs = k === 1 ? 'xaxis' : 'xaxis' + k;
  const ys = k === 1 ? 'yaxis' : 'yaxis' + k;
  const spec = YSPEC[row];
  layout[xs] = Object.assign({}, axisBase, {
    domain: COLS[col], anchor: k === 1 ? 'y' : 'y' + k,
    range: [0, X_MAX], tickmode: 'linear', tick0: 0, dtick: 2,
    showticklabels: row === 4, ticklabelstandoff: -16
  });
  if (row === 4) layout[xs].title = { text: '<i>y</i>', font: { family: FONT, size: 48 }, standoff: 14 };
  layout[ys] = Object.assign({}, axisBase, {
    domain: ROWS[row], anchor: k === 1 ? 'x' : 'x' + k,
    range: spec.range, tickmode: 'array', tickvals: spec.vals, ticktext: spec.text,
    ticklabelstandoff: -5
  });
  if (row > 0) {
    layout.shapes.push({
      type: 'line', xref: (k === 1 ? 'x' : 'x' + k) + ' domain', yref: k === 1 ? 'y' : 'y' + k,
      x0: 0, x1: 1, y0: 0, y1: 0, layer: 'below',
      line: { color: '#111111', width: 1.3, dash: '4px,3px' }
    });
  }
}

// rounded legend frames (pixel boxes converted to paper fractions)
function frame(l, t, r, b) {
  const x0 = l / W, x1 = r / W, y0 = 1 - b / H, y1 = 1 - t / H;
  const rx = 9 / W, ry = 9 / H;
  const p = 'M' + (x0 + rx) + ',' + y1 + ' L' + (x1 - rx) + ',' + y1 +
    ' Q' + x1 + ',' + y1 + ' ' + x1 + ',' + (y1 - ry) +
    ' L' + x1 + ',' + (y0 + ry) + ' Q' + x1 + ',' + y0 + ' ' + (x1 - rx) + ',' + y0 +
    ' L' + (x0 + rx) + ',' + y0 + ' Q' + x0 + ',' + y0 + ' ' + x0 + ',' + (y0 + ry) +
    ' L' + x0 + ',' + (y1 - ry) + ' Q' + x0 + ',' + y1 + ' ' + (x0 + rx) + ',' + y1 + ' Z';
  return { type: 'path', xref: 'paper', yref: 'paper', path: p, layer: 'above',
    fillcolor: 'rgba(255,255,255,0.85)', line: { color: '#cfcfcf', width: 1.6 } };
}
layout.shapes.push(
  frame(745, 129, 1207, 216),
  frame(895, 452, 1110, 521),
  frame(600, 725, 1303, 806),
  frame(685, 1012, 1236, 1092),
  frame(361, 1293, 1517, 1374)
);

// column headings
layout.annotations.push(
  { text: 'averaged for 2000 ≤ <i>t</i> ≤ 2050', x: 0.314, y: 0.944, xref: 'paper', yref: 'paper',
    xanchor: 'center', yanchor: 'middle', showarrow: false, font: { family: FONT, size: 59 } },
  { text: 'averaged for 2000 ≤ <i>t</i> ≤ 2500', x: 0.806, y: 0.944, xref: 'paper', yref: 'paper',
    xanchor: 'center', yanchor: 'middle', showarrow: false, font: { family: FONT, size: 59 } }
);

// panel letters
const LETTERS = ['a', 'b', 'c', 'd', 'e', 'f', 'g', 'h', 'i', 'j'];
const LETTER_Y = [0.891, 0.7085, 0.5316, 0.360, 0.190];
LETTERS.forEach((s, idx) => {
  const row = Math.floor(idx / 2), col = idx % 2;
  layout.annotations.push({
    text: '(' + s + ')', x: col ? 0.973 : 0.0757, y: LETTER_Y[row], xref: 'paper', yref: 'paper',
    xanchor: 'center', yanchor: 'middle', showarrow: false, font: { family: FONT, size: 50 }
  });
});

// legends (frames drawn above as shapes)
const legendBase = {
  orientation: 'h', xanchor: 'left', yanchor: 'top', xref: 'paper', yref: 'paper',
  bgcolor: 'rgba(0,0,0,0)', borderwidth: 0,
  font: { family: FONT, size: 40, color: '#000000' }, itemwidth: 86, itemclick: false, itemdoubleclick: false
};
layout.legend = Object.assign({}, legendBase, { x: 0.3841, y: 0.9170 });
layout.legend2 = Object.assign({}, legendBase, { x: 0.4593, y: 0.7287 });
layout.legend3 = Object.assign({}, legendBase, { x: 0.3095, y: 0.5615 });
layout.legend4 = Object.assign({}, legendBase, { x: 0.3526, y: 0.3897 });
layout.legend5 = Object.assign({}, legendBase, { x: 0.1875, y: 0.2209 });

Plotly.newPlot('chart', traces, layout, { staticPlot: true, displayModeBar: false });
</script>
</body>
</html>
